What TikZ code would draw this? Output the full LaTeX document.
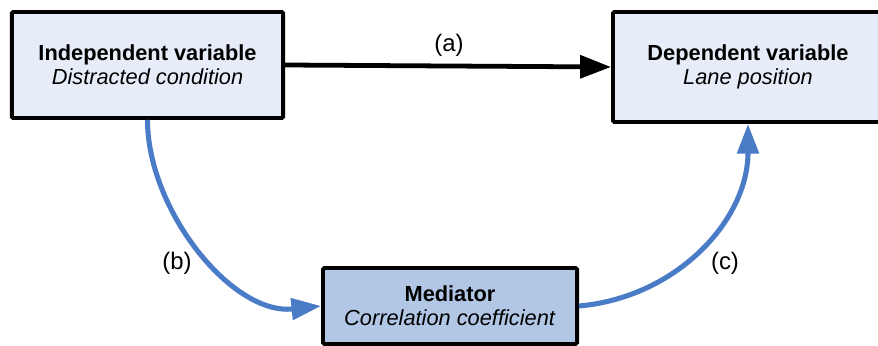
\documentclass[tikz,border=0pt]{standalone}
\usepackage{fontspec}
\setmainfont{Liberation Sans}
\usepackage{tikz}
\usetikzlibrary{arrows.meta, positioning}
\usepackage{xcolor}
\definecolor{boxfill}{HTML}{E7EDF8}
\definecolor{medfill}{HTML}{B1C7E5}
\definecolor{pathblue}{HTML}{4A7BC6}

\begin{document}
\begin{tikzpicture}[x=0.025cm, y=-0.025cm,
    varbox/.style={draw=black, line width=2.8pt, fill=boxfill, rounded corners=1pt,
        align=center, inner sep=0pt, font=\fontsize{15.5}{17}\selectfont},
    direct/.style={line width=3.4pt, -{Triangle[length=22pt, width=16pt]}},
    indirect/.style={pathblue, line width=3.6pt, -{Triangle[length=21pt, width=15pt]}},
    pathlabel/.style={font=\fontsize{17}{19}\selectfont}]
    \useasboundingbox (0,0) rectangle (878,346);
    \clip (0,0) rectangle (878,346);

    % Variables
    \node[varbox, minimum width=6.78cm, minimum height=2.65cm] (indep) at (147.5, 65)
        {\textbf{Independent variable}\\ \textit{Distracted condition}};
    \node[varbox, minimum width=6.75cm, minimum height=2.75cm] (dep) at (748, 67)
        {\textbf{Dependent variable}\\ \textit{Lane position}};
    \node[varbox, fill=medfill, minimum width=6.35cm, minimum height=1.9cm] (med) at (450, 306)
        {\textbf{Mediator}\\ \textit{Correlation coefficient}};

    % Direct effect
    \draw[direct] (indep.east) -- (dep.west);
    \node[pathlabel] (la) at (449, 45) {(a)};

    % Indirect effect via the mediator
    \draw[indirect] (indep.south) to[out=-90, in=186, looseness=0.9] (med.west);
    \draw[indirect] (med.east) to[out=5, in=-90] (dep.south);
    \node[pathlabel] (lb) at (177, 263) {(b)};
    \node[pathlabel] (lc) at (725, 263) {(c)};
\end{tikzpicture}
\end{document}
